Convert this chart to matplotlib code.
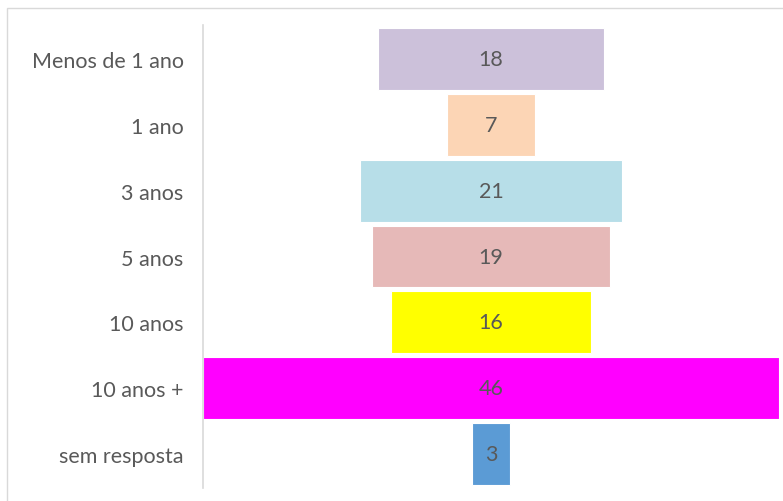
import matplotlib.pyplot as plt
from matplotlib.patches import Rectangle

# Data
categories = ['Menos de 1 ano', '1 ano', '3 anos', '5 anos', '10 anos', '10 anos +', 'sem resposta']
values = [18, 7, 21, 19, 16, 46, 3]
colors = ['#CCC1DA', '#FCD5B5', '#B7DEE8', '#E6B9B8', '#FFFF00', '#FF00FF', '#5B9BD5']

plt.rcParams['font.family'] = ['Lato', 'DejaVu Sans']

fig = plt.figure(figsize=(7.83, 5.02), dpi=100)

# outer chart frame (only top and left edges visible in the crop)
fig.patches.append(Rectangle((7 / 783, -0.1), 1.2, 1 - 9 / 502 + 0.1,
                             transform=fig.transFigure, fill=False,
                             edgecolor='#D9D9D9', linewidth=1))

ax = fig.add_axes([203 / 783, 13 / 502, 576 / 783, 463 / 502])

y = list(range(len(categories)))
lefts = [-v / 2 for v in values]
ax.barh(y, values, left=lefts, height=0.94, color=colors,
        edgecolor='white', linewidth=0.8)

for yi, v in zip(y, values):
    ax.text(0, yi, str(v), ha='center', va='center', fontsize=15.5, color='#595959')

ax.set_xlim(-23, 23)
ax.set_ylim(len(categories) - 0.5 + 0.01, -0.5 - 0.01)
ax.set_yticks(y)
ax.set_yticklabels(categories, fontsize=15.5, color='#595959')
ax.tick_params(axis='y', length=0, pad=14)
ax.set_xticks([])
for s in ['top', 'right', 'bottom']:
    ax.spines[s].set_visible(False)
ax.spines['left'].set_color('#D9D9D9')
ax.spines['left'].set_linewidth(1.2)

fig.savefig('out.png', dpi=100)
